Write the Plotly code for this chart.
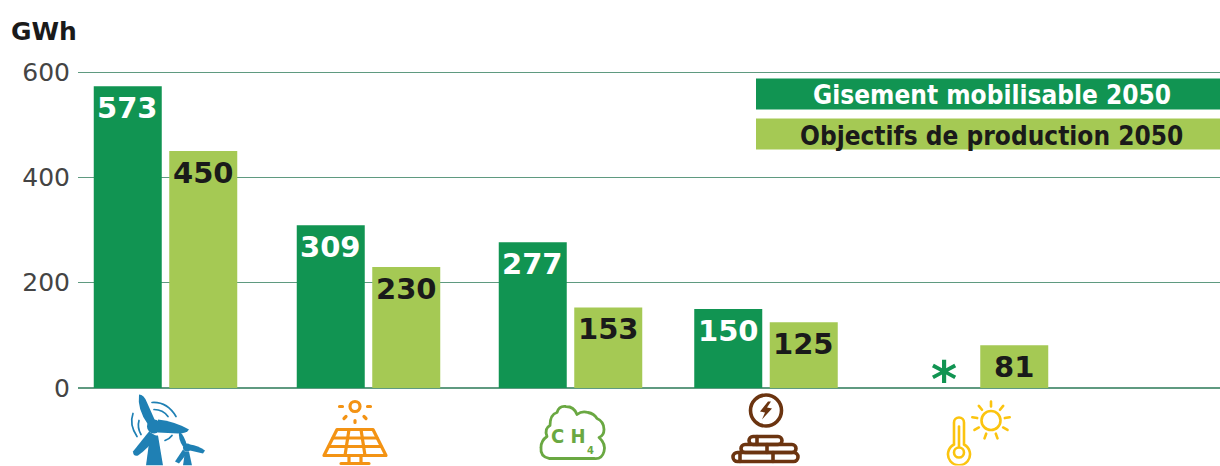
import base64
import math
import plotly.graph_objects as go

CATEGORIES = ["Éolien", "Photovoltaïque", "Biogaz", "Bois énergie", "Solaire thermique"]
SERIES_1_NAME = "Gisement mobilisable 2050"
SERIES_2_NAME = "Objectifs de production 2050"
SERIES_1 = [573, 309, 277, 150, None]
SERIES_2 = [450, 230, 153, 125, 81]
Y_TICKS = [0, 200, 400, 600]
UNIT = "GWh"
UNKNOWN_MARK = "*"

# layout constants (x axis runs in page pixels, groups are irregularly spaced)
W, H = 1220, 466
L, B = 78, 388.5
PX_PER_UNIT = 316 / 600
Y_MAX = 640
T = B - Y_MAX * PX_PER_UNIT
CENTERS = [165.5, 368.5, 570.5, 766, 976.5]
BAR_W, GAP = 68, 7.5
DARK, LIGHT = "#119452", "#a5c954"
GRID = "#5f9a80"
INK = "#1a1a1a"
FONT = "DejaVu Sans"
COND = "DejaVu Sans Condensed"

x1 = [c - GAP / 2 - BAR_W for c in CENTERS]
x2 = [c + GAP / 2 for c in CENTERS]


def px_y(y):
    return (B - y) / (B - T)


def note(x, y, text, family, size, color, xref="x"):
    return dict(xref=xref, yref="paper", x=x, y=px_y(y), text=text, showarrow=False,
                xanchor="center", yanchor="middle",
                font=dict(family=family, size=size, color=color, weight="bold"))


fig = go.Figure()
anns = []
for name, vals, xs, col, tc in [
    (SERIES_1_NAME, SERIES_1, x1, DARK, "white"),
    (SERIES_2_NAME, SERIES_2, x2, LIGHT, INK),
]:
    fig.add_bar(x=xs, y=vals, width=BAR_W, offset=0, name=name, marker_color=col,
                marker_line_width=0, hovertext=CATEGORIES)
    for xv, v in zip(xs, vals):
        if v is not None:
            anns.append(dict(xref="x", yref="y", x=xv + BAR_W / 2, y=v, text=str(v), showarrow=False,
                             xanchor="center", yanchor="top", yshift=-3,
                             font=dict(family=FONT, size=29, color=tc, weight="bold")))

shapes = []
for ytop, ybot, col in [(79, 110, DARK), (119, 150, LIGHT)]:
    shapes.append(dict(type="rect", xref="x", yref="paper", x0=756, x1=1220,
                       y0=px_y(ybot), y1=px_y(ytop), fillcolor=col, line_width=0, layer="above"))
anns.append(note(992, 95.5, SERIES_1_NAME, COND, 26, "white"))
anns.append(note(991, 136, SERIES_2_NAME, COND, 26, INK))
anns.append(note(0, 32, UNIT, FONT, 25, INK, xref="paper"))
anns[-1]["x"] = (43.5 - L) / (W - L)
anns.append(note(944, 380, UNKNOWN_MARK, FONT, 50, DARK))
anns.append(note(568, 437, "C H", COND, 20, "#6aa842"))
anns.append(note(590, 451, "4", COND, 11, "#6aa842"))

# ---- pictograms, drawn in page pixels on one transparent strip
BLUE, ORANGE, GREEN, BROWN, YELLOW = "#1f80b4", "#f39314", "#6aa842", "#6b3410", "#fbc40f"
s = []
s.append(f'<g fill="{BLUE}" stroke="none">'
         '<path d="M139 395 Q144 395 147 403 L155 421 L148 425 Q137 410 139 395Z"/>'
         '<path d="M158 420 Q175 422 189 430 Q187 434 178 434 L158 433Z"/>'
         '<path d="M149 432 L157 437 Q148 449 138 456 Q133 457 133 452Z"/>'
         '<circle cx="154" cy="427" r="7"/>'
         '<path d="M150 436 L158 436 L163 466 L146 466Z"/>'
         '<path d="M179 432 Q184 435 187 446 L183 447 Q178 440 179 432Z"/>'
         '<path d="M190 445 Q198 446 205 451 L203 454 L190 451Z"/>'
         '<path d="M183 450 L187 454 L179 464 L175 462Z"/>'
         '<circle cx="187" cy="448" r="4"/>'
         '<path d="M185 452 L189 452 L192 466 L183 466Z"/></g>')
s.append(f'<g fill="none" stroke="{BLUE}" stroke-width="1.7" stroke-linecap="round">'
         '<path d="M133 414 Q129 425 137 437"/><path d="M139 421 Q137 428 141 435"/>'
         '<path d="M152 403 Q167 402 176 417"/><path d="M154 410 Q163 410 168 417"/>'
         '<path d="M165 441 Q170 439 172 436"/></g>')
s.append(f'<g fill="none" stroke="{ORANGE}" stroke-width="3.2" stroke-linecap="round" stroke-linejoin="round">'
         '<circle cx="355" cy="407" r="5"/>'
         '<path d="M339.5 407 H342.5 M367.5 407 H370.5 M344 419 L346 417 M364 417 L366 419 M355 421 V423"/>'
         '<path d="M337 430 H373 L386 456 H324Z"/>'
         '<path d="M333 438.5 H377 M329 447 H381"/>'
         '<path d="M349 430 L345 456 M361 430 L365 456"/>'
         '<path d="M349 456 V464 M361 456 V464 M341 464 H369"/></g>')
s.append(f'<path fill="none" stroke="{GREEN}" stroke-width="2.8" stroke-linejoin="round" '
         'd="M549 459 Q540 457 541 448 Q541 441 547 437 Q544 429 550 426 Q550 415 557 413 '
         'Q559 406 566 407 Q574 407 577 415 Q582 411 588 413 Q594 414 597 419 Q604 422 604 430 '
         'Q604 436 599 438 Q606 444 604 452 Q602 460 594 459 Z"/>')
s.append(f'<g fill="none" stroke="{BROWN}" stroke-width="3.6" stroke-linejoin="round" stroke-linecap="round">'
         '<circle cx="766" cy="411" r="15.5"/>'
         '<rect x="749" y="437" width="33" height="8" rx="4"/>'
         '<rect x="741" y="445" width="55" height="8" rx="4"/>'
         '<rect x="733" y="453" width="65" height="9" rx="4.5"/>'
         '<path d="M757 437 V445 M767 445 V453 M740 453 V462 M773 453 V462"/></g>'
         f'<path fill="{BROWN}" d="M768 402 L760 412 L765 413 L762 420 L772 409 L767 408 L771 402Z"/>')
rays = ""
for i in range(9):
    a = math.radians(i * 40 - 90)
    rays += (f"M{991 + 14 * math.cos(a):.1f} {421 + 14 * math.sin(a):.1f} "
             f"L{991 + 19 * math.cos(a):.1f} {421 + 19 * math.sin(a):.1f} ")
s.append(f'<g fill="none" stroke="{YELLOW}" stroke-width="2.6" stroke-linecap="round">'
         '<path d="M954 445 V423 A5 5 0 0 1 964 423 V445 A11 11 0 1 1 954 445Z"/>'
         '<circle cx="959" cy="453" r="5"/><path d="M959 427 V447"/>'
         f'<circle cx="991" cy="421" r="9.5"/><path d="{rays}"/></g>')
svg = (f'<svg xmlns="http://www.w3.org/2000/svg" width="{W}" height="{H - 390}" '
       f'viewBox="0 390 {W} {H - 390}">' + "".join(s) + "</svg>")
uri = "data:image/svg+xml;base64," + base64.b64encode(svg.encode()).decode()

fig.update_layout(
    width=W, height=H, showlegend=False, barmode="overlay",
    margin=dict(l=L, r=0, t=T, b=H - B, pad=0),
    paper_bgcolor="white", plot_bgcolor="white",
    font=dict(family=FONT, color="#333333"),
    xaxis=dict(range=[L, W], visible=False, fixedrange=True),
    yaxis=dict(range=[0, Y_MAX], tickvals=Y_TICKS, ticks="", showline=False, zeroline=True,
               zerolinecolor=GRID, zerolinewidth=1.5, gridcolor=GRID, gridwidth=1,
               tickfont=dict(family=FONT, size=25, color="#444444"), ticklabelstandoff=7,
               fixedrange=True),
    shapes=shapes, annotations=anns,
    images=[dict(source=uri, xref="x", yref="paper", x=0, y=px_y(390), sizex=W,
                 sizey=(H - 390) / (B - T), xanchor="left", yanchor="top",
                 sizing="stretch", layer="above")],
)
fig.write_html("out.html", config={"displayModeBar": False},
               post_script="document.body.style.margin='0';")
